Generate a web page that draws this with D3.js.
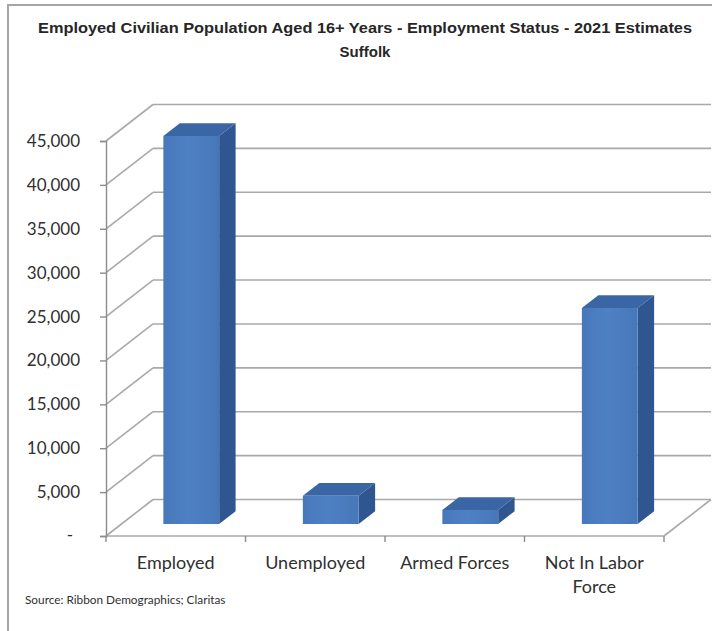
<!DOCTYPE html>
<html>
<head>
<meta charset="utf-8">
<script src="https://cdn.jsdelivr.net/npm/d3@7"></script>
<style>
  html, body { margin: 0; padding: 0; background: #ffffff; }
  svg { display: block; }
</style>
</head>
<body>
<svg id="chart" width="712" height="631"></svg>
<script>
// Employment status, Suffolk, 2021 estimates
const categories = ["Employed", "Unemployed", "Armed Forces", "Not In Labor Force"];
const categoryLines = [["Employed"], ["Unemployed"], ["Armed Forces"], ["Not In Labor", "Force"]];
const values = [44200, 3200, 1600, 24600];
const tickValues = [0, 5000, 10000, 15000, 20000, 25000, 30000, 35000, 40000, 45000];

const titleLines = ["Employed Civilian Population Aged 16+ Years - Employment Status - 2021 Estimates", "Suffolk"];
const sourceText = "Source: Ribbon Demographics; Claritas";

const svg = d3.select("#chart");

// Plot geometry (front plane) and oblique depth offset of the back wall
const frontLeft = 106, frontRight = 664;
const depthX = 47, depthY = -36.5;
const proj = (x, y, f) => [x + depthX * f, y + depthY * f];

const y = d3.scaleLinear().domain([0, 45000]).range([536, 141]);
const x = d3.scaleBand().domain(categories).range([frontLeft, frontRight]).paddingInner(0).paddingOuter(0);

// Depth slice occupied by the bars (fraction of the floor depth)
const barFront = 0.33, barBack = 0.68;
const barWidthFrac = 0.40;

// Outer chart frame
svg.append("rect")
  .attr("x", 8).attr("y", 5)
  .attr("width", 740).attr("height", 660)
  .attr("fill", "#ffffff")
  .attr("stroke", "#a6a6a6").attr("stroke-width", 2);

// Title
const title = svg.append("text")
  .attr("font-family", "Liberation Sans, Arial, sans-serif")
  .attr("font-weight", "bold")
  .attr("font-size", 15)
  .attr("fill", "#262626")
  .attr("text-anchor", "middle");
title.selectAll("tspan").data(titleLines).join("tspan")
  .attr("x", 365)
  .attr("y", (d, i) => 33 + i * 24)
  .text(d => d);
// keep the long title line within the frame width
title.select("tspan").attr("textLength", 654).attr("lengthAdjust", "spacingAndGlyphs");

const gridColor = "#a9a9a9";

// Back-wall gridlines and the side-wall diagonals linking them to the value axis
const grid = svg.append("g").attr("stroke", gridColor).attr("stroke-width", 1.6).attr("fill", "none");
tickValues.forEach(v => {
  const [bx0, by0] = proj(frontLeft, y(v), 1);
  const [bx1, by1] = proj(frontRight, y(v), 1);
  grid.append("line").attr("x1", bx0).attr("y1", by0).attr("x2", bx1).attr("y2", by1);
  grid.append("line").attr("x1", frontLeft).attr("y1", y(v)).attr("x2", bx0).attr("y2", by0);
});

// Floor: front edge and right edge
const [frx, fry] = proj(frontRight, y(0), 1);
grid.append("line").attr("x1", frontLeft).attr("y1", y(0)).attr("x2", frontRight).attr("y2", y(0));
grid.append("line").attr("x1", frontRight).attr("y1", y(0)).attr("x2", frx).attr("y2", fry);

// Value axis
const yAxis = d3.axisLeft(y)
  .tickValues(tickValues)
  .tickSize(6)
  .tickFormat(d => d === 0 ? "" : d3.format(",")(d));
const yAxisG = svg.append("g")
  .attr("transform", `translate(${frontLeft},0)`)
  .call(yAxis);
yAxisG.select(".domain").attr("stroke", "#8c8c8c").attr("stroke-width", 1.4);
yAxisG.selectAll(".tick line").attr("stroke", "#8c8c8c").attr("stroke-width", 1.4);
yAxisG.selectAll(".tick text")
  .attr("x", -26)
  .attr("font-family", "Lato, sans-serif")
  .attr("font-size", 17)
  .attr("fill", "#303030");
// zero shown as a dash in accounting style
yAxisG.append("text")
  .attr("x", -33).attr("y", y(0))
  .attr("dy", "0.32em")
  .attr("text-anchor", "end")
  .attr("font-family", "Lato, sans-serif")
  .attr("font-size", 17)
  .attr("fill", "#303030")
  .text("-");

// Category ticks along the front edge of the floor
const catTicks = d3.range(categories.length + 1).map(i => frontLeft + i * x.step());
svg.append("g").selectAll("line").data(catTicks).join("line")
  .attr("x1", d => d).attr("x2", d => d)
  .attr("y1", y(0)).attr("y2", y(0) + 6)
  .attr("stroke", "#8c8c8c").attr("stroke-width", 1.4);

// Category labels
const catLabels = svg.append("g")
  .attr("font-family", "Lato, sans-serif")
  .attr("font-size", 18)
  .attr("fill", "#303030")
  .attr("text-anchor", "middle");
categories.forEach((c, i) => {
  const t = catLabels.append("text");
  t.selectAll("tspan").data(categoryLines[i]).join("tspan")
    .attr("x", x(c) + x.bandwidth() / 2)
    .attr("y", (d, j) => 569 + j * 24)
    .text(d => d);
});

// Bar colours
const defs = svg.append("defs");
const grad = defs.append("linearGradient").attr("id", "barFront")
  .attr("x1", "0%").attr("x2", "100%").attr("y1", "0%").attr("y2", "0%");
grad.append("stop").attr("offset", "0%").attr("stop-color", "#4778bb");
grad.append("stop").attr("offset", "45%").attr("stop-color", "#4e81c4");
grad.append("stop").attr("offset", "100%").attr("stop-color", "#4677b9");

// 3D bars: front face, top face, right side face
const bars = svg.append("g");
categories.forEach((c, i) => {
  const v = values[i];
  const bw = x.bandwidth() * barWidthFrac;
  const left = x(c) + (x.bandwidth() - bw) / 2;
  const right = left + bw;
  const top = y(v), base = y(0);
  const p = (px, py, f) => proj(px, py, f);
  const fTL = p(left, top, barFront), fTR = p(right, top, barFront);
  const fBL = p(left, base, barFront), fBR = p(right, base, barFront);
  const bTL = p(left, top, barBack), bTR = p(right, top, barBack);
  const bBR = p(right, base, barBack);
  const poly = pts => "M" + pts.map(q => q.join(",")).join("L") + "Z";

  bars.append("path").attr("d", poly([fTR, bTR, bBR, fBR])).attr("fill", "#2f5690");
  bars.append("path").attr("d", poly([fTL, bTL, bTR, fTR])).attr("fill", "#3a66a6");
  bars.append("path").attr("d", poly([fTL, fTR, fBR, fBL])).attr("fill", "url(#barFront)");
});

// Source note
svg.append("text")
  .attr("x", 25).attr("y", 604)
  .attr("font-family", "Lato, sans-serif")
  .attr("font-size", 11.8)
  .attr("fill", "#303030")
  .text(sourceText);
</script>
</body>
</html>
